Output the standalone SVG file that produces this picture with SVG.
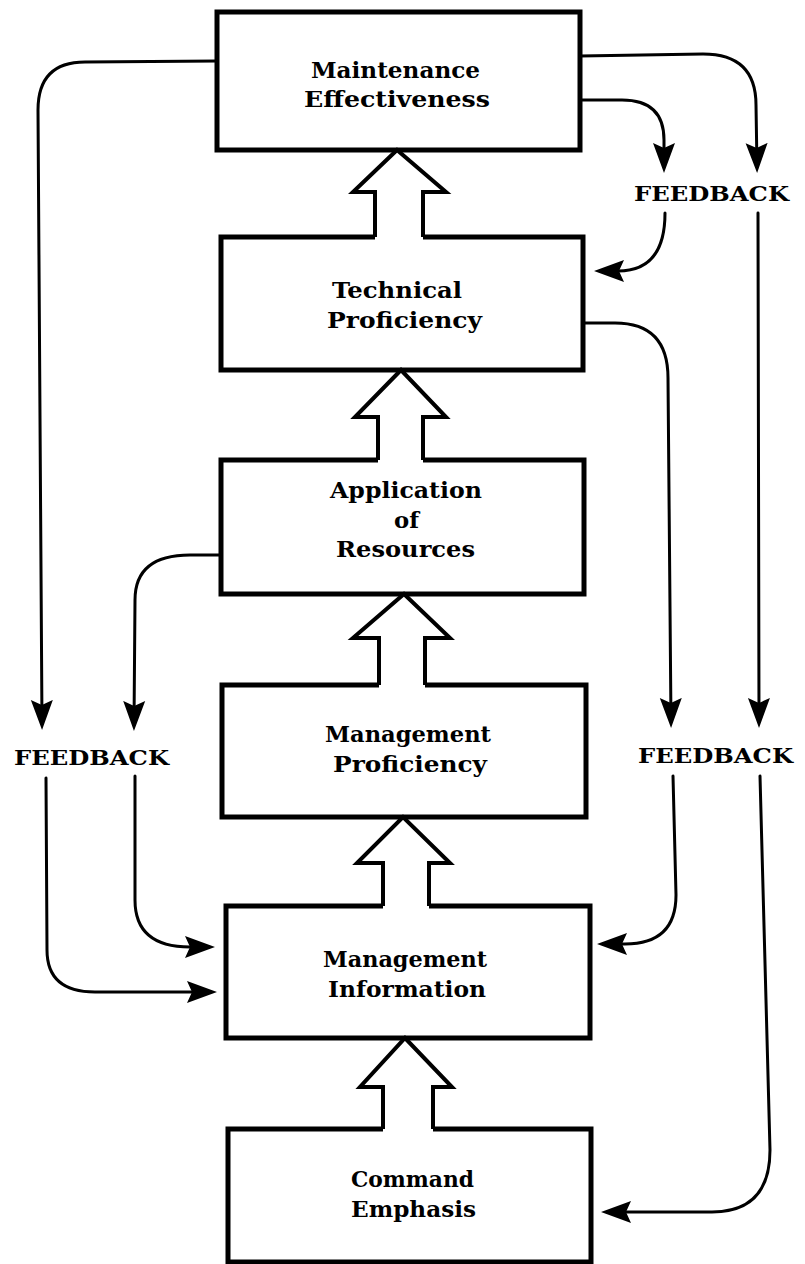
<svg xmlns="http://www.w3.org/2000/svg" width="805" height="1264" viewBox="0 0 805 1264">
<style>
.box{fill:#fff;stroke:#000;stroke-width:5;stroke-linejoin:miter}
.lbl{font-family:"DejaVu Serif","Liberation Serif",serif;font-size:23px;font-weight:bold;fill:#000}
.fb{font-family:"DejaVu Serif","Liberation Serif",serif;font-size:21px;font-weight:bold;fill:#000}
.con{fill:none;stroke:#000;stroke-width:3;stroke-linecap:round;stroke-linejoin:round}
.bafill{fill:#fff;stroke:none}
.ba{fill:none;stroke:#000;stroke-width:4;stroke-linejoin:miter}
</style>
<defs>
<marker id="ah" markerUnits="userSpaceOnUse" markerWidth="32" markerHeight="24" viewBox="0 -12 32 24" refX="24" refY="0" orient="auto">
<path d="M0,-11 L30,0 L0,11 L5,0 Z" fill="#000"/>
</marker>
</defs>

<g id="n-maint">
<rect class="box" x="217" y="12" width="363" height="138"/>
<text class="lbl" x="311" y="78" textLength="169" lengthAdjust="spacingAndGlyphs">Maintenance</text>
<text class="lbl" x="304" y="107" textLength="186" lengthAdjust="spacingAndGlyphs">Effectiveness</text>
</g>
<g id="n-tech">
<rect class="box" x="221" y="237" width="362" height="133"/>
<text class="lbl" x="332" y="298" textLength="130" lengthAdjust="spacingAndGlyphs">Technical</text>
<text class="lbl" x="327" y="328" textLength="155" lengthAdjust="spacingAndGlyphs">Proficiency</text>
</g>
<g id="n-appl">
<rect class="box" x="221" y="460" width="363" height="134"/>
<text class="lbl" x="330" y="498" textLength="152" lengthAdjust="spacingAndGlyphs">Application</text>
<text class="lbl" x="394" y="528" textLength="25" lengthAdjust="spacingAndGlyphs">of</text>
<text class="lbl" x="336" y="557" textLength="139" lengthAdjust="spacingAndGlyphs">Resources</text>
</g>
<g id="n-mgmtprof">
<rect class="box" x="222" y="685" width="364" height="132"/>
<text class="lbl" x="325" y="742" textLength="166" lengthAdjust="spacingAndGlyphs">Management</text>
<text class="lbl" x="333" y="772" textLength="154" lengthAdjust="spacingAndGlyphs">Proficiency</text>
</g>
<g id="n-mgmtinfo">
<rect class="box" x="226" y="906" width="364" height="132"/>
<text class="lbl" x="323" y="967" textLength="164" lengthAdjust="spacingAndGlyphs">Management</text>
<text class="lbl" x="328" y="997" textLength="158" lengthAdjust="spacingAndGlyphs">Information</text>
</g>
<g id="n-command">
<rect class="box" x="228" y="1129" width="363" height="133"/>
<text class="lbl" x="351" y="1187" textLength="123" lengthAdjust="spacingAndGlyphs">Command</text>
<text class="lbl" x="351" y="1217" textLength="125" lengthAdjust="spacingAndGlyphs">Emphasis</text>
</g>

<g id="labels">
<text class="fb" x="634" y="201" textLength="155" lengthAdjust="spacingAndGlyphs">FEEDBACK</text>
<text class="fb" x="14" y="765" textLength="155" lengthAdjust="spacingAndGlyphs">FEEDBACK</text>
<text class="fb" x="638" y="763" textLength="155" lengthAdjust="spacingAndGlyphs">FEEDBACK</text>
</g>

<g id="connectors">
<polygon class="bafill" points="397,150 446,192 423,192 423,241 375,241 375,192 353,192"/>
<polyline class="ba" points="375,237 375,192 353,192 397,150 446,192 423,192 423,237"/>
<polygon class="bafill" points="401,370 446,417 423,417 423,464 378,464 378,417 355,417"/>
<polyline class="ba" points="378,460 378,417 355,417 401,370 446,417 423,417 423,460"/>
<polygon class="bafill" points="404,594 450,638 425,638 425,689 379,689 379,638 353,638"/>
<polyline class="ba" points="379,685 379,638 353,638 404,594 450,638 425,638 425,685"/>
<polygon class="bafill" points="403,817 450,863 429,863 429,910 383,910 383,863 357,863"/>
<polyline class="ba" points="383,906 383,863 357,863 403,817 450,863 429,863 429,906"/>
<polygon class="bafill" points="405,1038 452,1087 433,1087 433,1133 383,1133 383,1087 360,1087"/>
<polyline class="ba" points="383,1129 383,1087 360,1087 405,1038 452,1087 433,1087 433,1129"/>

<path class="con" d="M217,61 L85,62 Q38,62 38,110 L42,724" marker-end="url(#ah)"/>
<path class="con" d="M46,778 L47,950 Q47,992 95,992 L211,992" marker-end="url(#ah)"/>
<path class="con" d="M221,555 L190,555 Q135,555 135,600 L134,725" marker-end="url(#ah)"/>
<path class="con" d="M135,776 L135,900 Q135,947 190,947 L209,947" marker-end="url(#ah)"/>
<path class="con" d="M580,56 L703,54 Q756,54 756,105 L757,167" marker-end="url(#ah)"/>
<path class="con" d="M758,213 L759,722" marker-end="url(#ah)"/>
<path class="con" d="M760,776 L770,1150 Q770,1212 712,1212 L607,1212" marker-end="url(#ah)"/>
<path class="con" d="M580,100 L622,100 Q664,100 664,140 L664,167" marker-end="url(#ah)"/>
<path class="con" d="M665,213 Q665,271 618,271 L600,271" marker-end="url(#ah)"/>
<path class="con" d="M583,323 L615,323 Q668,323 668,378 L671,722" marker-end="url(#ah)"/>
<path class="con" d="M673,776 L676,895 Q676,944 625,944 L603,944" marker-end="url(#ah)"/>
</g>
</svg>
